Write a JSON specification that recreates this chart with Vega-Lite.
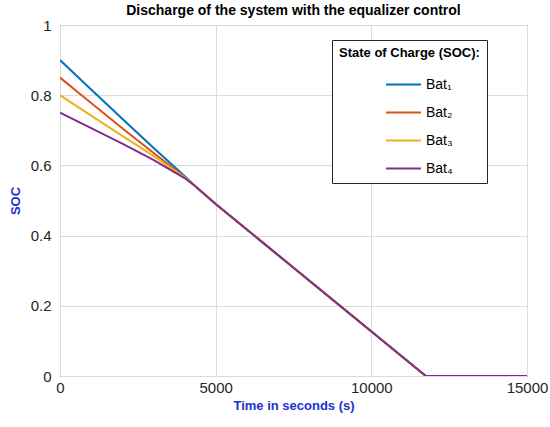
{
  "$schema": "https://vega.github.io/schema/vega-lite/v6.json",
  "autosize": {"type": "none"},
  "width": 467,
  "height": 351,
  "padding": {"left": 60, "top": 25, "right": 23, "bottom": 51},
  "background": "white",
  "title": {
    "text": "Discharge of the system with the equalizer control",
    "font": "Liberation Sans",
    "fontSize": 14,
    "fontWeight": "bold",
    "color": "#000000",
    "offset": -14,
    "baseline": "bottom",
    "anchor": "middle"
  },
  "config": {
    "view": {"stroke": "#262626", "strokeWidth": 1},
    "font": "Liberation Sans"
  },
  "data": {
    "values": [
      {"t": 0, "soc": 0.9, "bat": "Bat₁"},
      {"t": 1000, "soc": 0.8165, "bat": "Bat₁"},
      {"t": 2000, "soc": 0.733, "bat": "Bat₁"},
      {"t": 3000, "soc": 0.65, "bat": "Bat₁"},
      {"t": 4000, "soc": 0.57, "bat": "Bat₁"},
      {"t": 4300, "soc": 0.544, "bat": "Bat₁"},
      {"t": 5000, "soc": 0.49, "bat": "Bat₁"},
      {"t": 11750, "soc": 0, "bat": "Bat₁"},
      {"t": 15000, "soc": 0, "bat": "Bat₁"},
      {"t": 0, "soc": 0.85, "bat": "Bat₂"},
      {"t": 1000, "soc": 0.778, "bat": "Bat₂"},
      {"t": 2000, "soc": 0.706, "bat": "Bat₂"},
      {"t": 3000, "soc": 0.636, "bat": "Bat₂"},
      {"t": 4000, "soc": 0.567, "bat": "Bat₂"},
      {"t": 4300, "soc": 0.544, "bat": "Bat₂"},
      {"t": 5000, "soc": 0.49, "bat": "Bat₂"},
      {"t": 11750, "soc": 0, "bat": "Bat₂"},
      {"t": 15000, "soc": 0, "bat": "Bat₂"},
      {"t": 0, "soc": 0.8, "bat": "Bat₃"},
      {"t": 1000, "soc": 0.742, "bat": "Bat₃"},
      {"t": 2000, "soc": 0.684, "bat": "Bat₃"},
      {"t": 3000, "soc": 0.627, "bat": "Bat₃"},
      {"t": 4000, "soc": 0.566, "bat": "Bat₃"},
      {"t": 4300, "soc": 0.544, "bat": "Bat₃"},
      {"t": 5000, "soc": 0.49, "bat": "Bat₃"},
      {"t": 11750, "soc": 0, "bat": "Bat₃"},
      {"t": 15000, "soc": 0, "bat": "Bat₃"},
      {"t": 0, "soc": 0.75, "bat": "Bat₄"},
      {"t": 1000, "soc": 0.706, "bat": "Bat₄"},
      {"t": 2000, "soc": 0.662, "bat": "Bat₄"},
      {"t": 3000, "soc": 0.616, "bat": "Bat₄"},
      {"t": 4000, "soc": 0.564, "bat": "Bat₄"},
      {"t": 4300, "soc": 0.544, "bat": "Bat₄"},
      {"t": 5000, "soc": 0.49, "bat": "Bat₄"},
      {"t": 11750, "soc": 0, "bat": "Bat₄"},
      {"t": 15000, "soc": 0, "bat": "Bat₄"}
    ]
  },
  "mark": {"type": "line", "strokeWidth": 2, "clip": true},
  "encoding": {
    "x": {
      "field": "t",
      "type": "quantitative",
      "scale": {"domain": [0, 15000], "nice": false, "zero": false},
      "axis": {
        "values": [0, 5000, 10000, 15000],
        "format": "d",
        "title": "Time in seconds (s)",
        "titleColor": "#1f2fd0",
        "titleFont": "Liberation Sans",
        "titleFontSize": 13,
        "titleFontWeight": "bold",
        "titlePadding": 4,
        "labelFont": "Liberation Sans",
        "labelFontSize": 15,
        "labelColor": "#262626",
        "labelPadding": 4,
        "labelFlush": false,
        "labelOverlap": false,
        "tickSize": 0,
        "domain": false,
        "grid": true,
        "gridColor": "#dcdcdc",
        "gridWidth": 1
      }
    },
    "y": {
      "field": "soc",
      "type": "quantitative",
      "scale": {"domain": [0, 1], "nice": false},
      "axis": {
        "values": [0, 0.2, 0.4, 0.6, 0.8, 1],
        "format": "~g",
        "title": "SOC",
        "titleColor": "#1f2fd0",
        "titleFont": "Liberation Sans",
        "titleFontSize": 13,
        "titleFontWeight": "bold",
        "titlePadding": 8,
        "labelFont": "Liberation Sans",
        "labelFontSize": 15,
        "labelColor": "#262626",
        "labelPadding": 9,
        "labelFlush": false,
        "labelOverlap": false,
        "tickSize": 0,
        "domain": false,
        "grid": true,
        "gridColor": "#dcdcdc",
        "gridWidth": 1
      }
    },
    "color": {
      "field": "bat",
      "type": "nominal",
      "scale": {
        "domain": ["Bat₁", "Bat₂", "Bat₃", "Bat₄"],
        "range": ["#0072BD", "#D95319", "#EDB120", "#7E2F8E"]
      },
      "legend": {
        "title": "State of Charge (SOC):",
        "orient": "none",
        "legendX": 272,
        "legendY": 15,
        "direction": "vertical",
        "titleFont": "Liberation Sans",
        "titleFontSize": 13,
        "titleFontWeight": "bold",
        "titleColor": "#000000",
        "titlePadding": 6,
        "labelFont": "Liberation Sans",
        "labelFontSize": 14,
        "labelColor": "#000000",
        "labelOffset": 4,
        "symbolType": "stroke",
        "symbolSize": 1225,
        "symbolStrokeWidth": 2,
        "symbolOffset": 46,
        "rowPadding": 2,
        "padding": 7,
        "fillColor": "white",
        "strokeColor": "#262626",
        "cornerRadius": 0
      }
    }
  }
}
